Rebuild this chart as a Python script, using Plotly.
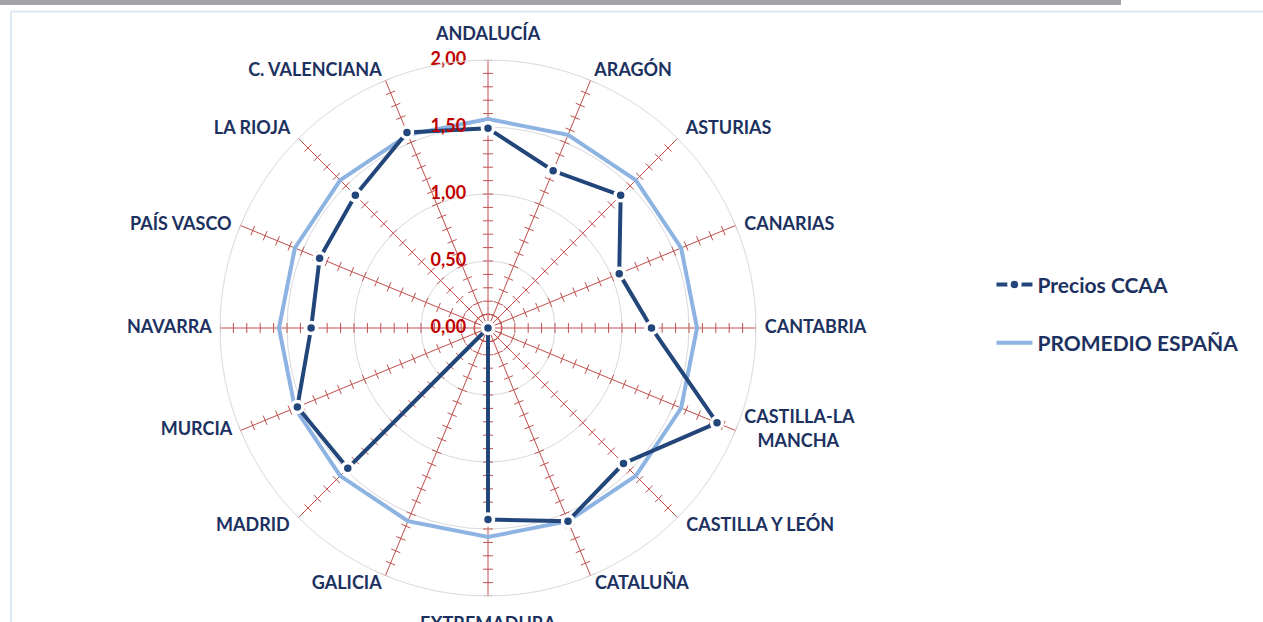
import math
import plotly.graph_objects as go

# Regions around the radar, clockwise from the top
regions = ["ANDALUCÍA", "ARAGÓN", "ASTURIAS", "CANARIAS", "CANTABRIA",
           "CASTILLA-LA<br>\u00a0\u00a0\u00a0MANCHA", "CASTILLA Y LEÓN", "CATALUÑA",
           "EXTREMADURA", "GALICIA", "MADRID", "MURCIA", "NAVARRA", "PAÍS VASCO",
           "LA RIOJA", "C. VALENCIANA"]

precios_ccaa = [1.49, 1.27, 1.40, 1.06, 1.22, 1.85, 1.43, 1.56, 1.43,
                0.00, 1.48, 1.54, 1.32, 1.36, 1.40, 1.58]

promedio_espana = [1.56] * len(regions)

radial_ticks = [0.0, 0.5, 1.0, 1.5, 2.0]
radial_labels = ["0,00", "0,50", "1,00", "1,50", "2,00"]

NAVY = "#1c3160"
DARK_BLUE = "#23467a"
LIGHT_BLUE = "#8db3e2"
RED = "#c0504d"
LABEL_RED = "#c00000"
GRID_GRAY = "#d9d9d9"
FONT = "Lato"
RMAX = 2.0
NBSP = "\u00a0"

n = len(regions)
step = 360.0 / n
angles = [i * step for i in range(n)]


def closed(values):
    return list(values) + [values[0]]


def label_layout(a):
    """Text anchor and horizontal padding for a label at the tip of a spoke."""
    side = "right" if a < 180 else "left"
    upper = a < 90 or a > 270
    m = a % 180
    if m in (22.5, 157.5):
        return ("top " if upper else "bottom ") + side, 1
    if m in (45, 135):
        return ("top " if upper else "bottom ") + side, 2
    return "middle " + side, 2


fig = go.Figure()

# Small tick crosses along every spoke, one every 0.1 units
half = 0.037
tick_r, tick_t = [], []
for a in angles:
    for k in range(1, 21):
        r = k / 10.0
        rr = math.hypot(r, half)
        da = math.degrees(math.atan2(half, r))
        tick_r += [rr, rr, None]
        tick_t += [a - da, a + da, None]
fig.add_trace(go.Scatterpolar(
    r=tick_r, theta=tick_t, mode="lines",
    line=dict(color=RED, width=1), hoverinfo="skip", showlegend=False,
))

fig.add_trace(go.Scatterpolar(
    r=closed(promedio_espana), theta=closed(angles), mode="lines",
    name="PROMEDIO ESPAÑA", legendrank=2, legendgroup="b",
    line=dict(color=LIGHT_BLUE, width=4),
))

fig.add_trace(go.Scatterpolar(
    r=closed(precios_ccaa), theta=closed(angles), mode="lines+markers",
    name="Precios CCAA", legendrank=1, legendgroup="a",
    line=dict(color=DARK_BLUE, width=4),
    marker=dict(symbol="circle", size=11, color=DARK_BLUE,
                line=dict(color="white", width=3.5)),
))

# Value labels along the top spoke
pad = NBSP * 5
fig.add_trace(go.Scatterpolar(
    r=radial_ticks, theta=[0] * len(radial_ticks), mode="text",
    text=[t + pad for t in radial_labels], textposition="middle left",
    textfont=dict(family=FONT, size=18, color=LABEL_RED, weight="bold"),
    hoverinfo="skip", showlegend=False,
))

# Side category labels just outside the tip of each spoke
side_t, side_text, side_pos = [], [], []
for a, name in zip(angles, regions):
    if a in (0, 180):
        continue
    pos, k = label_layout(a)
    g = NBSP * k
    if pos.endswith("right"):
        name = g + name.replace("<br>", "<br>" + g)
    else:
        name = name + g
    side_t.append(a)
    side_text.append(name)
    side_pos.append(pos)
fig.add_trace(go.Scatterpolar(
    r=[RMAX] * len(side_t), theta=side_t, mode="text",
    text=side_text, textposition=side_pos, cliponaxis=False,
    textfont=dict(family=FONT, size=18, color=NAVY, weight="bold"),
    hoverinfo="skip", showlegend=False,
))

# Top and bottom labels come from the angular axis itself
axis_text = [name if a in (0, 180) else "" for a, name in zip(angles, regions)]

r0 = 268
cx, cy = 488, 328
W, H = 1263, 622

fig.update_layout(
    width=W, height=H,
    margin=dict(l=0, r=0, t=0, b=0),
    paper_bgcolor="white",
    font=dict(family=FONT, color=NAVY),
    polar=dict(
        domain=dict(x=[(cx - r0) / W, (cx + r0) / W],
                    y=[(H - cy - r0) / H, (H - cy + r0) / H]),
        bgcolor="white",
        gridshape="linear",
        angularaxis=dict(
            type="linear", rotation=90, direction="clockwise",
            tickmode="array", tickvals=angles, ticktext=axis_text,
            showgrid=True, gridcolor=RED, gridwidth=1,
            showline=True, linecolor=GRID_GRAY, linewidth=1,
            ticks="outside", ticklen=12, tickcolor="rgba(0,0,0,0)",
            tickfont=dict(family=FONT, size=18, color=NAVY, weight="bold"),
        ),
        radialaxis=dict(
            range=[0, RMAX], angle=90,
            tickmode="array", tickvals=radial_ticks,
            showticklabels=False,
            showgrid=True, gridcolor=GRID_GRAY, gridwidth=1,
            showline=False, ticks="",
        ),
    ),
    legend=dict(
        x=0.785, y=0.575, xanchor="left", yanchor="top",
        font=dict(family=FONT, size=21, color=NAVY, weight="bold"),
        traceorder="grouped", tracegroupgap=28, itemwidth=36,
        bgcolor="rgba(0,0,0,0)",
    ),
    shapes=[
        dict(type="rect", xref="paper", yref="paper",
             x0=0, x1=1121 / W, y0=1 - 5 / H, y1=1,
             fillcolor="#a3a3a8", line=dict(width=0), layer="above"),
        dict(type="line", xref="paper", yref="paper",
             x0=11 / W, x1=1, y0=1 - 11.5 / H, y1=1 - 11.5 / H,
             line=dict(color="#dde8f5", width=2)),
        dict(type="line", xref="paper", yref="paper",
             x0=11 / W, x1=11 / W, y0=0, y1=1 - 11.5 / H,
             line=dict(color="#dde8f5", width=2)),
    ],
)

fig.write_html("out.html")
